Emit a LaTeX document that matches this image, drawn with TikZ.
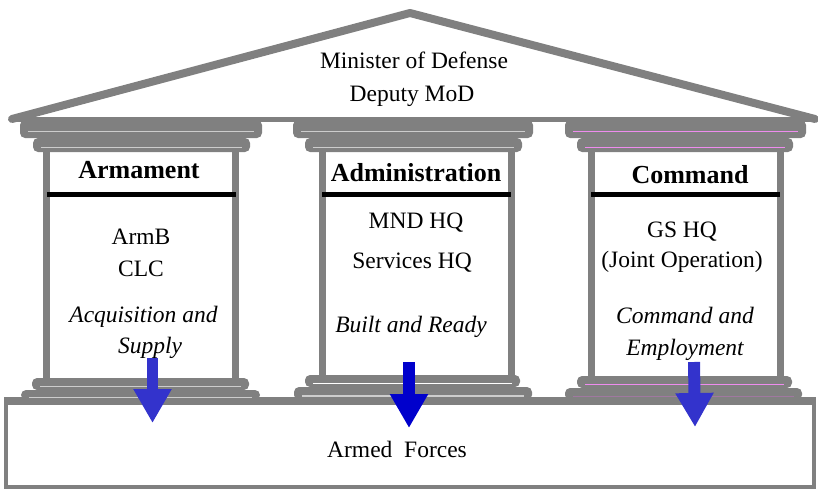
\documentclass[tikz,border=0pt]{standalone}
\usepackage{fontspec}
\setmainfont{Liberation Serif}
\usepackage{xcolor}
\definecolor{pillargray}{RGB}{128,128,128}
\definecolor{rimgray}{RGB}{205,205,205}
\definecolor{rimpink}{RGB}{238,140,238}
\definecolor{rimmauve}{RGB}{160,120,160}
\definecolor{pushblue}{RGB}{51,51,204}
\definecolor{deepblue}{RGB}{0,0,204}
\usepackage{tikz}
\usetikzlibrary{arrows.meta}
\tikzset{
    shaft/.style={
           rectangle,
           draw=pillargray, line width=7pt,
           inner sep=0pt,
           minimum width=189pt
           },
    plate/.style={
           rectangle,
           rounded corners=5pt,
           fill=pillargray,
           inner sep=0pt,
           path picture={\draw[#1, line width=1.2pt]
              ([xshift=8pt,yshift=-2.5pt]path picture bounding box.west) --
              ([xshift=-8pt,yshift=-2.5pt]path picture bounding box.east);}
           },
    body/.style={
           font=\fontsize{23.5}{28}\selectfont,
           anchor=base,
           inner sep=0pt
           },
    motto/.style={
           body,
           font=\fontsize{23.5}{28}\selectfont\itshape
           },
    heading/.style={
           body,
           font=\fontsize{26}{30}\selectfont\bfseries
           },
    headbar/.style={line width=5pt, shorten <=3.5pt, shorten >=3.5pt},
}

\begin{document}
\begin{tikzpicture}[x=1pt,y=-1pt,>={Triangle[length=34pt,width=36pt]}]
            \useasboundingbox (0,0) rectangle (818,490);

            % the floor everything stands on
            \node[draw=pillargray, line width=4pt,
              minimum width=808pt, minimum height=84pt,
              inner sep=0pt] (forces) at (410,445) {};
            \draw[pillargray, line width=8pt] (forces.north west) -- (forces.north east);
            \node[body] (forcesText) at (397,457) {Armed\ \ Forces};

            % shafts
            \node[shaft, minimum height=234pt] (shaftA) at (141.25,265) {};
            \node[shaft, minimum height=231pt] (shaftB) at (416.5,263.5) {};
            \node[shaft, minimum height=232pt] (shaftC) at (685.5,264) {};

            % bases
            \node[plate=rimgray, minimum width=217pt, minimum height=12pt] (baseA1) at (140.5,384) {};
            \node[plate=rimgray, minimum width=239pt, minimum height=10pt] (baseA2) at (140.5,395) {};
            \node[plate=white, minimum width=215pt, minimum height=12pt] (baseB1) at (412.5,381) {};
            \node[plate=rimgray, minimum width=238pt, minimum height=13pt] (baseB2) at (413,393.5) {};
            \node[plate=rimpink, minimum width=215pt, minimum height=12pt] (baseC1) at (684.5,382) {};
            \node[plate=rimmauve, minimum width=237pt, minimum height=12pt] (baseC2) at (683.5,394) {};

            % capitals
            \node[plate=rimgray, minimum width=242pt, minimum height=18pt] (capA1) at (141,129) {};
            \node[plate=rimgray, minimum width=217pt, minimum height=14pt] (capA2) at (141.5,145) {};
            \node[plate=rimgray, minimum width=240pt, minimum height=18pt] (capB1) at (413,129) {};
            \node[plate=rimgray, minimum width=217pt, minimum height=14pt] (capB2) at (413.5,145) {};
            \node[plate=rimpink, minimum width=241pt, minimum height=18pt] (capC1) at (685.5,129) {};
            \node[plate=rimpink, minimum width=216pt, minimum height=14pt] (capC2) at (685,145) {};

            % roof
            \coordinate (eaveL) at (12,119);
            \coordinate (ridge) at (410,13);
            \coordinate (eaveR) at (815,119);
            \draw[pillargray, line width=5pt] (eaveL) -- (eaveR);
            \draw[pillargray, line width=8pt, line cap=round, line join=round]
              (eaveL) -- (ridge) -- (eaveR);
            \node[body] (minister) at (414,68) {Minister of Defense};
            \node[body] (deputy) at (412,101) {Deputy MoD};

            % Armament
            \draw[headbar] (shaftA.west |- 0,194.5) -- (shaftA.east |- 0,194.5);
            \node[heading] (armHead) at (139,178) {Armament};
            \node[body] (armB) at (141,244) {ArmB};
            \node[body] (clc) at (141,276) {CLC};
            \node[motto] (armTask) at (143.5,322) {Acquisition and};
            \node[motto] (armTask2) at (150,353) {Supply};

            % Administration
            \draw[headbar] (shaftB.west |- 0,194.5) -- (shaftB.east |- 0,194.5);
            \node[heading] (admHead) at (416,181) {Administration};
            \node[body] (mnd) at (416,228) {MND HQ};
            \node[body] (services) at (412,268) {Services HQ};
            \node[motto] (admTask) at (411,332) {Built and Ready};

            % Command
            \draw[headbar] (shaftC.west |- 0,194.5) -- (shaftC.east |- 0,194.5);
            \node[heading] (cmdHead) at (690,183) {Command};
            \node[body] (gs) at (682,237) {GS HQ};
            \node[body] (joint) at (682,267) {(Joint Operation)};
            \node[motto] (cmdTask) at (685,323) {Command and};
            \node[motto] (cmdTask2) at (685,355) {Employment};

            % pushing down into the forces
            \coordinate (armTop) at (152.5,358);
            \coordinate (armFoot) at (152.5,423);
            \coordinate (admTop) at (409,362);
            \coordinate (admFoot) at (409,428);
            \coordinate (cmdTop) at (694,362);
            \coordinate (cmdFoot) at (695,427);
            \draw[->, pushblue, line width=11pt] (armTop) -- (armFoot);
            \draw[->, deepblue, line width=12pt] (admTop) -- (admFoot);
            \draw[->, pushblue, line width=12pt] (cmdTop) -- (cmdFoot);

\end{tikzpicture}
\end{document}
